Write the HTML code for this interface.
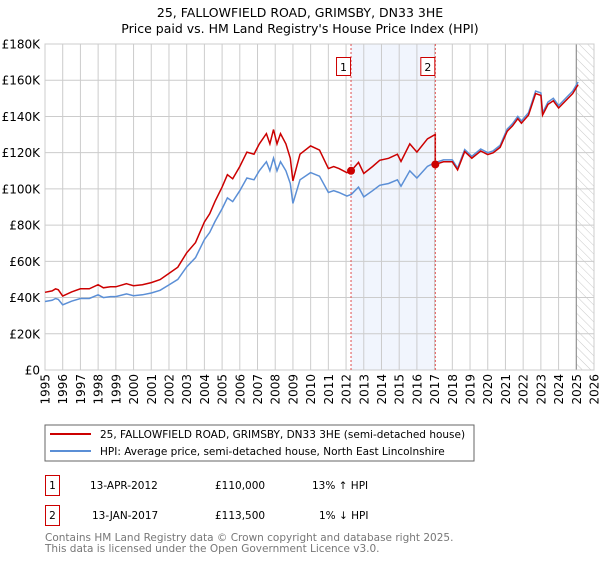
<!DOCTYPE html>
<html><head><meta charset="utf-8"><style>
body{margin:0;background:#fff;width:600px;height:560px;overflow:hidden}
svg text{font-family:"DejaVu Sans","Liberation Sans",sans-serif;fill:#000}
</style></head><body>
<svg id="c" width="600" height="560" xmlns="http://www.w3.org/2000/svg">
<defs><pattern id="hatch" width="6" height="6" patternUnits="userSpaceOnUse" patternTransform="rotate(-45)"><line x1="0" y1="0" x2="0" y2="6" stroke="#bbb" stroke-width="0.8"/></pattern></defs>
<text x="300" y="17" text-anchor="middle" font-size="12.5">25, FALLOWFIELD ROAD, GRIMSBY, DN33 3HE</text>
<text x="300" y="33" text-anchor="middle" font-size="12.5">Price paid vs. HM Land Registry's House Price Index (HPI)</text>
<g id="plot"></g>
<rect x="45" y="425" width="429" height="36" fill="#fff" stroke="#666" stroke-width="1"/>
<line x1="50" y1="434" x2="91" y2="434" stroke="#cc0000" stroke-width="2"/>
<text x="100" y="438" font-size="10.5">25, FALLOWFIELD ROAD, GRIMSBY, DN33 3HE (semi-detached house)</text>
<line x1="50" y1="451" x2="91" y2="451" stroke="#5b8fd6" stroke-width="2"/>
<text x="100" y="455" font-size="10.5">HPI: Average price, semi-detached house, North East Lincolnshire</text>
<g>
<rect x="45.5" y="475.5" width="14" height="20" fill="none" stroke="#cc0000"/>
<text x="52.5" y="489" text-anchor="middle" font-size="10.5">1</text>
<text x="90" y="489" font-size="10.5">13-APR-2012</text>
<text x="215" y="489" font-size="10.5">£110,000</text>
<text x="312" y="489" font-size="10.5">13% ↑ HPI</text></g>
<g>
<rect x="45.5" y="505.5" width="14" height="20" fill="none" stroke="#cc0000"/>
<text x="52.5" y="519" text-anchor="middle" font-size="10.5">2</text>
<text x="92" y="519" font-size="10.5">13-JAN-2017</text>
<text x="215" y="519" font-size="10.5">£113,500</text>
<text x="319" y="519" font-size="10.5">1% ↓ HPI</text></g>
<text x="45" y="541" font-size="10.5" style="fill:#777">Contains HM Land Registry data © Crown copyright and database right 2025.</text>
<text x="45" y="552" font-size="10.5" style="fill:#777">This data is licensed under the Open Government Licence v3.0.</text>
</svg>
<script>
const hpiYears=[1995,1995.4,1995.6,1995.75,1996,1996.5,1997,1997.5,1998,1998.3,1998.7,1999,1999.6,2000,2000.5,2001,2001.5,2002,2002.5,2003,2003.5,2004,2004.3,2004.6,2005,2005.3,2005.6,2006,2006.4,2006.8,2007.1,2007.5,2007.7,2007.9,2008.1,2008.3,2008.6,2008.85,2009.0,2009.4,2010,2010.5,2011,2011.3,2011.6,2012.05,2012.3,2012.7,2013.0,2013.5,2013.9,2014.4,2014.9,2015.1,2015.6,2016,2016.6,2017.0,2017.5,2018.0,2018.3,2018.7,2019.1,2019.6,2020.0,2020.3,2020.7,2021.1,2021.4,2021.7,2021.9,2022.3,2022.7,2023.0,2023.1,2023.4,2023.7,2024.0,2024.5,2024.8,2025.1];
const hpiValues=[37.8,38.5,39.5,39,36,38,39.5,39.5,41.5,40,40.5,40.5,42,41,41.5,42.5,44,47,50,57,62,72,76,82,89,95,93,99,106,105,110,115,110,117,110,115,110,103,92,105,109,107,98,99,98,96,97,101,95.6,99,102,103,105,101.5,110,106,112.5,114.4,116,116,111.5,121.7,118,122,120,121,124,133,136,140,137.5,142,154,153,142,148,150,146,151,154,159];
const saleYears=[2012.28,2017.04];
const salePrices=[110,113.5];
const yTicks=[0,20,40,60,80,100,120,140,160,180];
const yTickLabels=["£0","£20K","£40K","£60K","£80K","£100K","£120K","£140K","£160K","£180K"];
const xTicks=[1995,1996,1997,1998,1999,2000,2001,2002,2003,2004,2005,2006,2007,2008,2009,2010,2011,2012,2013,2014,2015,2016,2017,2018,2019,2020,2021,2022,2023,2024,2025,2026];

const X0=45,X1=594,Y0=370,Y1=44;
const x=v=>X0+(v-1995)/(2026-1995)*(X1-X0);
const y=v=>Y0-v/180*(Y0-Y1);
const NS="http://www.w3.org/2000/svg";
const g=document.getElementById('plot');
function mk(t,a){const e=document.createElementNS(NS,t);for(const k in a)e.setAttribute(k,a[k]);g.appendChild(e);return e;}
function hpiAt(t){for(let i=0;i<hpiYears.length-1;i++){if(t<=hpiYears[i+1]){const f=(t-hpiYears[i])/(hpiYears[i+1]-hpiYears[i]);return hpiValues[i]+f*(hpiValues[i+1]-hpiValues[i]);}}return hpiValues[hpiValues.length-1];}

let e=mk('rect',{x:x(saleYears[0]),y:Y1,width:x(saleYears[1])-x(saleYears[0]),height:Y0-Y1,fill:'#eef3fc',opacity:0.8});


e=mk('rect',{x:x(2025.0),y:Y1,width:X1-x(2025.0),height:Y0-Y1,fill:'url(#hatch)'});


yTicks.forEach((v,i)=>{
 let l=mk('line',{x1:X0,x2:X1,y1:y(v),y2:y(v),stroke:'#ccc','stroke-width':1});
 
 
 let t=mk('text',{x:X0-5,y:y(v)+4.5,'text-anchor':'end','font-size':12});t.textContent=yTickLabels[i];
 
 
});
xTicks.forEach(v=>{
 let l=mk('line',{x1:x(v),x2:x(v),y1:Y1,y2:Y0,stroke:'#ccc','stroke-width':1});
 
 
 let t=mk('text',{x:0,y:0,'text-anchor':'end','font-size':12,transform:`translate(${x(v)+4.5},${Y0+4}) rotate(-90)`});t.textContent=v;
 
 
});
e=mk('line',{x1:x(2025.0),x2:x(2025.0),y1:Y1,y2:Y0,stroke:'#888','stroke-width':1});


e=mk('rect',{x:X0,y:Y1,width:X1-X0,height:Y0-Y1,fill:'none',stroke:'#ccc'});



let p=hpiYears.map((t,i)=>`${i?'L':'M'}${x(t).toFixed(1)},${y(hpiValues[i]).toFixed(1)}`).join('');
e=mk('path',{d:p,fill:'none',stroke:'#5b8fd6','stroke-width':1.5});


const r1=salePrices[0]/hpiAt(saleYears[0]),r2=salePrices[1]/hpiAt(saleYears[1]);
let pts=[];
hpiYears.forEach((t,i)=>{
 if(t<saleYears[1]) pts.push([t,hpiValues[i]*r1]);
 else { if(pts.length&&pts[pts.length-1][0]<saleYears[1]){pts.push([saleYears[1],hpiAt(saleYears[1])*r1]);pts.push([saleYears[1],salePrices[1]]);} pts.push([t,hpiValues[i]*r2]); }
});
p=pts.map((q,i)=>`${i?'L':'M'}${x(q[0]).toFixed(1)},${y(q[1]).toFixed(1)}`).join('');
e=mk('path',{d:p,fill:'none',stroke:'#cc0000','stroke-width':1.5});



saleYears.forEach((t,i)=>{
 let l=mk('line',{x1:x(t),x2:x(t),y1:Y1,y2:Y0,stroke:'#e05050','stroke-width':1,'stroke-dasharray':'2,2'});
 
 
 let c=mk('circle',{cx:x(t),cy:y(salePrices[i]),r:4,fill:'#cc0000'});
 
 
 let b=mk('rect',{x:x(t)-14.5,y:57.5,width:14,height:18,fill:'#fff',stroke:'#cc0000'});
 
 
 let tx=mk('text',{x:x(t)-7.5,y:71,'text-anchor':'middle','font-size':11});tx.textContent=String(i+1);
 
 
});
</script>
</body></html>
